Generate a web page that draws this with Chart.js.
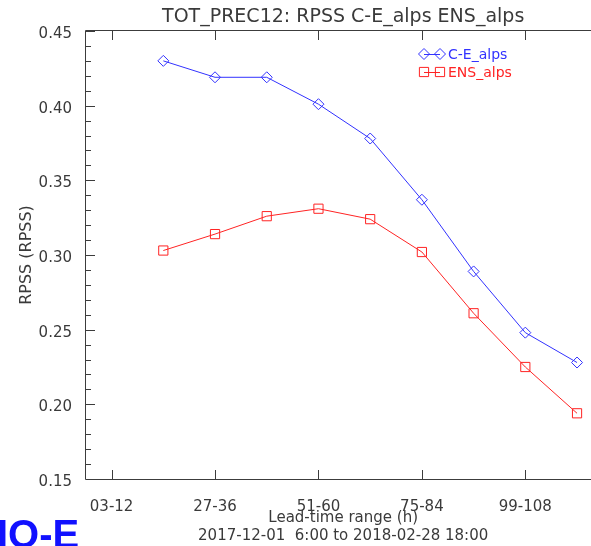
<!DOCTYPE html>
<html>
<head>
<meta charset="utf-8">
<script src="https://cdn.jsdelivr.net/npm/chart.js@4.4.1/dist/chart.umd.min.js"></script>
<style>
    html, body { margin: 0; background: #fff; overflow: hidden; }
    #chartBox { width: 591px; height: 546px; position: relative; }
    #chartBox canvas { display: block; }
</style>
</head>
<body>
<div id="chartBox"><canvas id="rpssChart" width="591" height="546" style="width:591px;height:546px"></canvas></div>
<script>
// lead-time ranges (one point every 12 h)
const leadRanges = ['03-12', '15-24', '27-36', '39-48', '51-60', '63-72', '75-84', '87-96', '99-108', '111-120'];
const xTickLabels = ['03-12', '27-36', '51-60', '75-84', '99-108'];
const yTicks = [0.15, 0.20, 0.25, 0.30, 0.35, 0.40, 0.45];

// RPSS per lead-time range, first range has no value
const ceAlps = [null, 0.430, 0.419, 0.419, 0.401, 0.378, 0.337, 0.289, 0.248, 0.228];
const ensAlps = [null, 0.303, 0.314, 0.326, 0.331, 0.324, 0.302, 0.261, 0.225, 0.194];

const seriesNames = ['C-E_alps', 'ENS_alps'];
const chartTitle = 'TOT_PREC12: RPSS C-E_alps ENS_alps';
const xTitle = 'Lead-time range (h)';
const periodText = '2017-12-01  6:00 to 2018-02-28 18:00';
const yTitle = 'RPSS (RPSS)';
const logoText = 'IO-E';

class RpssChart {

    static pointers = {
        canvas: 'rpssChart',
    }

    static look = {
        font: '"DejaVu Sans", sans-serif',
        axis: '#3c3c3c',
        text: '#3a3a3a',
        blue: 'rgb(50,50,255)',
        red: 'rgb(255,35,35)',
        logo: '#1111ff',
    }

    // the original frame ends a bit past the picture's right edge
    static frameEnd = 9.45

    static markers = [
        { pointStyle: 'rectRot', radius: 5.5 },
        { pointStyle: 'rect', radius: 6.5 },
    ]

    // idl style frame: top line, inward ticks, minor ticks on y, texts
    static framePlugin = {
        id: 'idlFrame',
        afterDraw: (chart) => {
            const { ctx, chartArea: a, scales } = chart;
            const x = scales.x, y = scales.y;
            const midX = (a.left + x.getPixelForValue(this.frameEnd)) / 2;
            ctx.save();
            ctx.strokeStyle = this.look.axis;
            ctx.lineWidth = 1;
            ctx.beginPath();
            ctx.moveTo(a.left - 0.5, a.top - 0.5);
            ctx.lineTo(chart.width, a.top - 0.5);
            ctx.moveTo(a.left - 0.5, a.top - 0.5);
            ctx.lineTo(a.left - 0.5, a.bottom + 0.5);
            ctx.lineTo(chart.width, a.bottom + 0.5);
            // x ticks, top and bottom, pointing in
            xTickLabels.forEach(lab => {
                const px = Math.round(x.getPixelForValue(leadRanges.indexOf(lab))) + 0.5;
                ctx.moveTo(px, a.top);
                ctx.lineTo(px, a.top + 9);
                ctx.moveTo(px, a.bottom);
                ctx.lineTo(px, a.bottom - 9);
            });
            // y ticks, major and minor
            for (let i = 0; i <= 30; i++) {
                const v = 0.15 + i * 0.01;
                const py = Math.round(y.getPixelForValue(v)) + 0.5;
                const len = i % 5 === 0 ? 9 : 5;
                ctx.moveTo(a.left, py);
                ctx.lineTo(a.left + len, py);
            }
            ctx.stroke();

            // title
            ctx.fillStyle = this.look.text;
            ctx.font = '19px ' + this.look.font;
            ctx.textAlign = 'center';
            ctx.textBaseline = 'middle';
            ctx.fillText(chartTitle, midX, 17);

            // x axis title and period
            ctx.font = '15px ' + this.look.font;
            ctx.fillText(xTitle, midX, a.bottom + 39);
            ctx.fillText(periodText, midX, a.bottom + 57);

            // legend
            const colors = [this.look.blue, this.look.red];
            seriesNames.forEach((name, i) => {
                const ly = 54 + i * 18;
                ctx.strokeStyle = colors[i];
                ctx.fillStyle = 'rgba(0,0,0,0)';
                ctx.beginPath();
                ctx.moveTo(424, ly + 0.5);
                ctx.lineTo(440, ly + 0.5);
                ctx.stroke();
                [424, 440].forEach(mx => {
                    Chart.helpers.drawPoint(ctx, { ...this.markers[i], borderWidth: 1, rotation: 0 }, mx, ly);
                });
                ctx.fillStyle = colors[i];
                ctx.font = '14px ' + this.look.font;
                ctx.textAlign = 'left';
                ctx.fillText(name, 448, ly + 1);
            });

            // logo, cut by the bottom edge
            ctx.fillStyle = this.look.logo;
            ctx.font = 'bold 40px "Liberation Sans", Arial, sans-serif';
            ctx.textAlign = 'left';
            ctx.textBaseline = 'alphabetic';
            ctx.fillText(logoText, -3, 548);
            ctx.restore();
        }
    }

    static makeSeries = (values, i, color) => ({
        label: seriesNames[i],
        data: values.map((v, k) => ({ x: k, y: v })),
        borderColor: color,
        backgroundColor: 'rgba(0,0,0,0)',
        borderWidth: 1,
        pointStyle: this.markers[i].pointStyle,
        pointRadius: this.markers[i].radius,
        pointBorderWidth: 1,
        pointBorderColor: color,
        pointBackgroundColor: 'rgba(0,0,0,0)',
        tension: 0,
        spanGaps: false,
    })

    static init = () => {
        const tickFont = { family: this.look.font, size: 15 };
        new Chart(document.getElementById(this.pointers.canvas), {
            type: 'line',
            data: {
                datasets: [
                    this.makeSeries(ceAlps, 0, this.look.blue),
                    this.makeSeries(ensAlps, 1, this.look.red),
                ]
            },
            options: {
                responsive: false,
                animation: false,
                devicePixelRatio: 1,
                // no extra room for point markers, frame runs to the edge
                layout: { autoPadding: false, padding: { top: 31, left: 0, right: 0, bottom: 0 } },
                plugins: {
                    legend: { display: false },
                    title: { display: false },
                    tooltip: { enabled: false },
                },
                scales: {
                    x: {
                        type: 'linear',
                        min: -0.495,
                        max: 9.27,
                        afterFit: (s) => {
                            s.height = 67;
                            s.paddingLeft = 0;
                            s.paddingRight = 0;
                        },
                        afterBuildTicks: (s) => {
                            s.ticks = xTickLabels.map(lab => ({ value: leadRanges.indexOf(lab) }));
                        },
                        grid: { display: false, drawTicks: false },
                        border: { display: false },
                        ticks: {
                            autoSkip: false,
                            maxRotation: 0,
                            padding: 19,
                            color: this.look.text,
                            font: tickFont,
                            callback: (v) => leadRanges[v],
                        },
                    },
                    y: {
                        min: 0.15,
                        max: 0.45,
                        afterFit: (s) => {
                            s.width = 86;
                            s.paddingTop = 0;
                            s.paddingBottom = 0;
                        },
                        afterBuildTicks: (s) => {
                            s.ticks = yTicks.map(v => ({ value: v }));
                        },
                        grid: { display: false, drawTicks: false },
                        border: { display: false },
                        ticks: {
                            padding: 14,
                            labelOffset: 3,
                            color: this.look.text,
                            font: tickFont,
                            callback: (v) => v.toFixed(2),
                        },
                        title: {
                            display: true,
                            text: yTitle,
                            color: this.look.text,
                            font: { family: this.look.font, size: 16 },
                            padding: { top: 17, bottom: 0 },
                        },
                    },
                },
            },
            plugins: [this.framePlugin],
        });
    }
}

RpssChart.init();
</script>
</body>
</html>
